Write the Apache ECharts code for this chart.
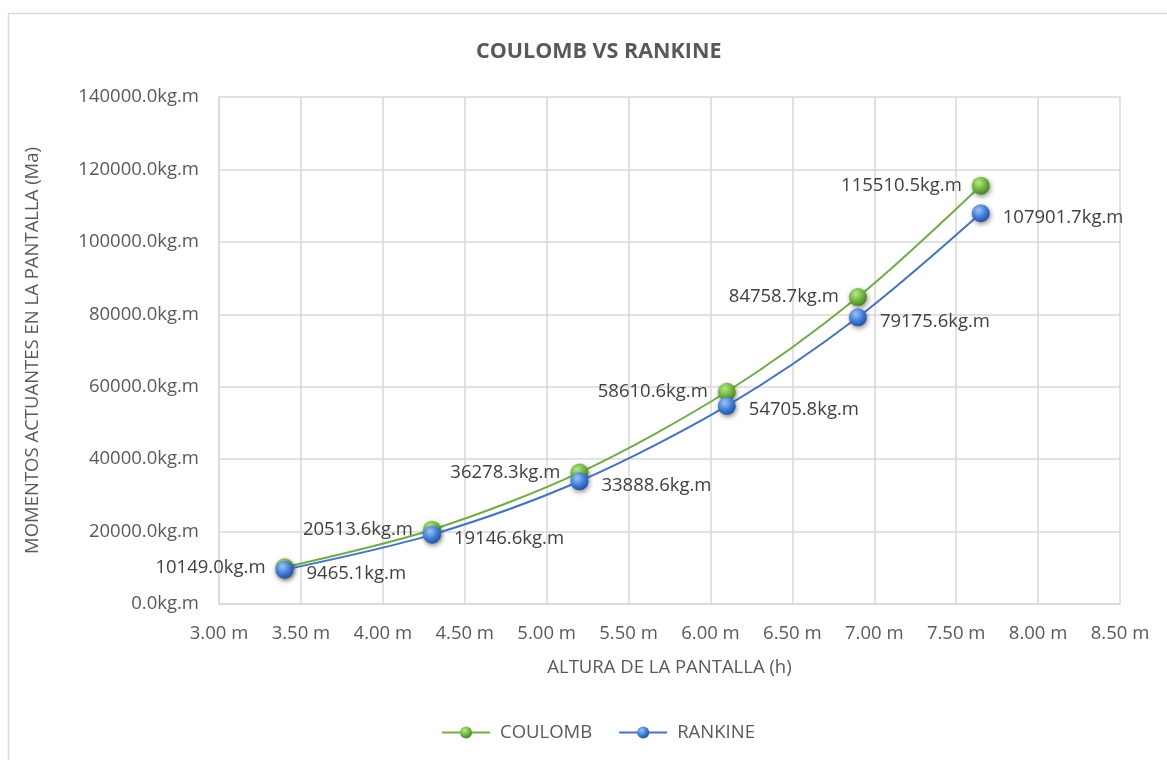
<!DOCTYPE html>
<html>
<head>
<meta charset="utf-8">
<script src="https://cdn.jsdelivr.net/npm/echarts@6/dist/echarts.min.js"></script>
<style>
  html, body { margin: 0; padding: 0; background: #fff; }
  #chart { width: 1167px; height: 760px; }
</style>
</head>
<body>
<div id="chart"></div>
<script>
// Wall height (m) and acting moments (kg.m) for both earth-pressure theories
const alturas = [3.40, 4.30, 5.20, 6.10, 6.90, 7.65];
const coulomb = [10149.0, 20513.6, 36278.3, 58610.6, 84758.7, 115510.5];
const rankine = [9465.1, 19146.6, 33888.6, 54705.8, 79175.6, 107901.7];
const seriesNames = ['COULOMB', 'RANKINE'];

const FONT = '"Open Sans", "Liberation Sans", sans-serif';
const TEXT = '#595959';
const FS = 18.5;

function sphere(light, base, dark) {
  return {
    type: 'radial', x: 0.38, y: 0.32, r: 0.75,
    colorStops: [
      { offset: 0, color: light },
      { offset: 0.55, color: base },
      { offset: 1, color: dark }
    ]
  };
}

function pairs(xs, ys) { return xs.map((x, i) => [x, ys[i]]); }
const fmtKg = v => v.toFixed(1) + 'kg.m';

const chart = echarts.init(document.getElementById('chart'));
chart.setOption({
  animation: false,
  backgroundColor: '#fff',
  textStyle: { fontFamily: FONT },
  graphic: [{
    type: 'rect', silent: true, z: -1,
    shape: { x: 8.5, y: 13.5, width: 1300, height: 900 },
    style: { fill: 'none', stroke: '#d9d9d9', lineWidth: 1.5 }
  }],
  title: {
    text: 'COULOMB VS RANKINE',
    left: 471, top: 36,
    textStyle: { fontFamily: FONT, fontSize: 21.5, fontWeight: 'bold', color: TEXT }
  },
  legend: {
    bottom: 13, left: 436,
    itemWidth: 48, itemHeight: 15, itemGap: 26,
    textStyle: { fontFamily: FONT, fontSize: FS, color: TEXT, padding: [0, 0, 0, 5] },
    data: seriesNames
  },
  grid: { left: 219, top: 97, right: 47, bottom: 156 },
  xAxis: {
    type: 'value', min: 3.0, max: 8.5, interval: 0.5,
    name: 'ALTURA DE LA PANTALLA (h)', nameLocation: 'middle', nameGap: 54,
    nameTextStyle: { fontFamily: FONT, fontSize: FS, color: TEXT },
    axisLine: { show: true, lineStyle: { color: '#d9d9d9', width: 1.5 } },
    axisTick: { show: false },
    axisLabel: { margin: 20, fontFamily: FONT, fontSize: FS, color: TEXT,
                 formatter: v => v.toFixed(2) + ' m' },
    splitLine: { show: true, lineStyle: { color: '#d9d9d9', width: 1.5 } }
  },
  yAxis: {
    type: 'value', min: 0, max: 140000, interval: 20000,
    name: 'MOMENTOS ACTUANTES EN LA PANTALLA (Ma)', nameLocation: 'middle', nameGap: 177,
    nameTextStyle: { fontFamily: FONT, fontSize: FS, color: TEXT },
    axisLine: { show: true, lineStyle: { color: '#d9d9d9', width: 1.5 } },
    axisTick: { show: false },
    axisLabel: { margin: 20, fontFamily: FONT, fontSize: FS, color: TEXT, formatter: fmtKg },
    splitLine: { show: true, lineStyle: { color: '#d9d9d9', width: 1.5 } }
  },
  series: [
    {
      name: seriesNames[0], type: 'line', smooth: 0.3,
      data: pairs(alturas, coulomb),
      symbol: 'circle', symbolSize: 18,
      lineStyle: { color: '#70ad47', width: 2 },
      itemStyle: {
        color: sphere('#b8e88a', '#6fb33c', '#3f7a1c'),
        shadowColor: 'rgba(0,0,0,0.45)', shadowBlur: 5, shadowOffsetX: 1, shadowOffsetY: 2
      },
      label: { show: true, position: 'left', distance: 10, fontFamily: FONT, fontSize: FS,
               color: '#404040', formatter: p => fmtKg(p.value[1]) },
      z: 3
    },
    {
      name: seriesNames[1], type: 'line', smooth: 0.3,
      data: pairs(alturas, rankine),
      symbol: 'circle', symbolSize: 18,
      lineStyle: { color: '#4472c4', width: 2 },
      itemStyle: {
        color: sphere('#9cc4f5', '#3f7bd6', '#1f4a96'),
        shadowColor: 'rgba(0,0,0,0.45)', shadowBlur: 5, shadowOffsetX: 1, shadowOffsetY: 2
      },
      label: { show: true, position: 'right', distance: 13, offset: [0, 4], fontFamily: FONT,
               fontSize: FS, color: '#404040', formatter: p => fmtKg(p.value[1]) },
      z: 4
    }
  ]
});
</script>
</body>
</html>
